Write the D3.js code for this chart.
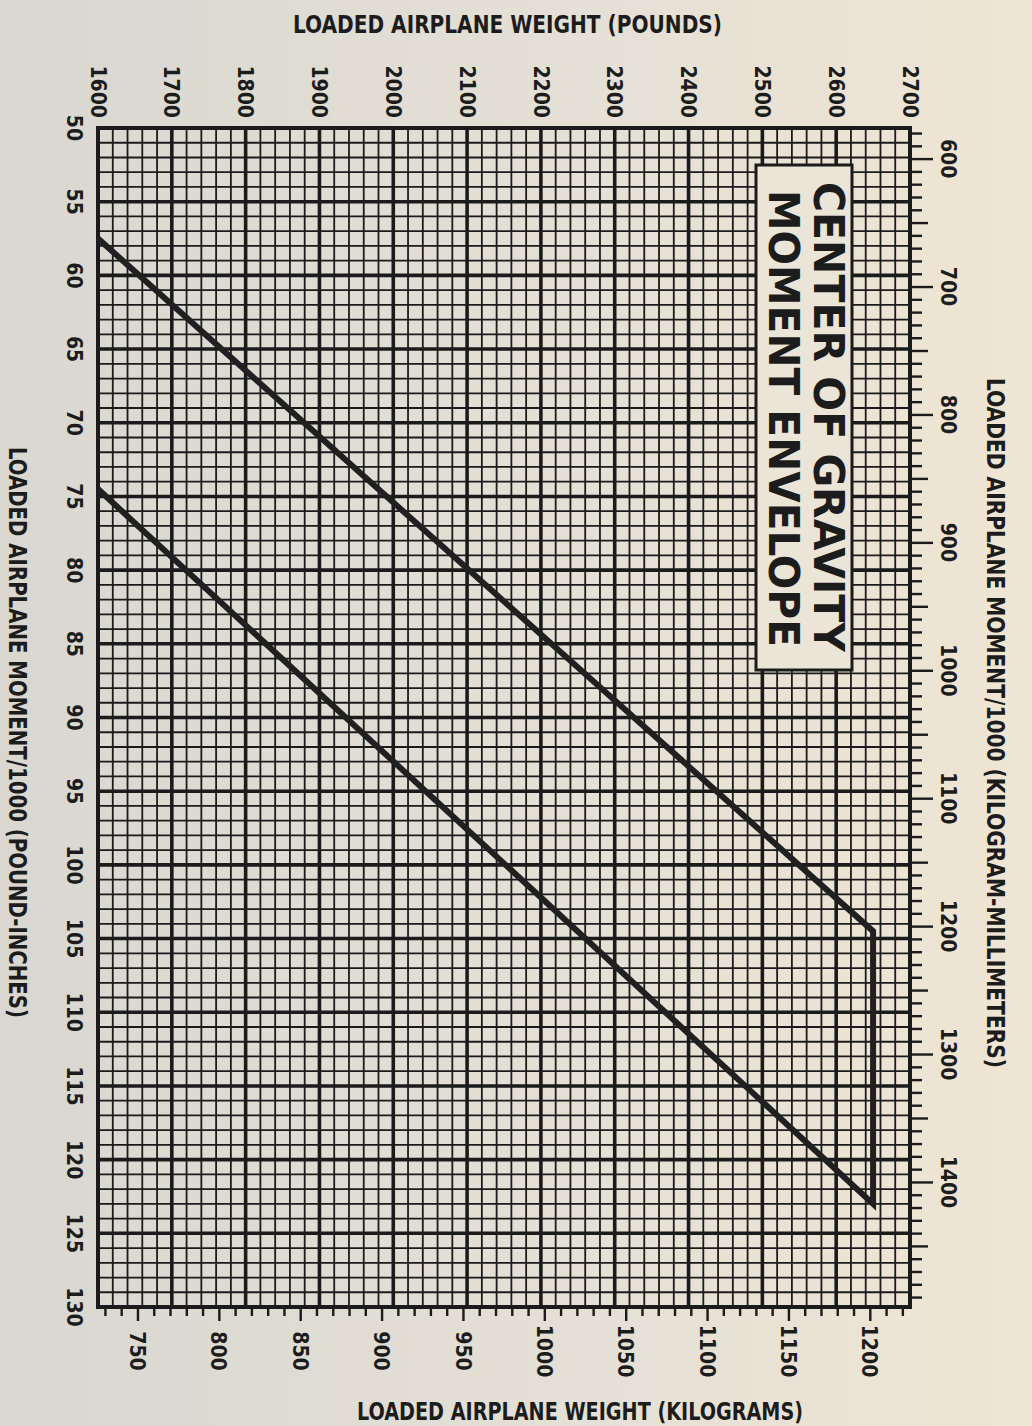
<!DOCTYPE html>
<html>
<head>
<meta charset="utf-8">
<script src="https://cdn.jsdelivr.net/npm/d3@7"></script>
<style>
  html, body { margin: 0; padding: 0; background: #e4e0d6; }
  svg { display: block; }
  text { font-family: "Liberation Sans Narrow", "Arial Narrow", "DejaVu Sans Condensed", sans-serif; font-weight: bold; fill: #1c1c1c; }
</style>
</head>
<body>
<div class="Canvas"></div>
<script>
// Tick labels on the four sides.
const weightLabelsLb = [1600, 1700, 1800, 1900, 2000, 2100, 2200, 2300, 2400, 2500, 2600, 2700];
const momentLabelsLbIn = [50, 55, 60, 65, 70, 75, 80, 85, 90, 95, 100, 105, 110, 115, 120, 125, 130];
const momentLabelsKgMm = [600, 700, 800, 900, 1000, 1100, 1200, 1300, 1400];
const weightLabelsKg = [750, 800, 850, 900, 950, 1000, 1050, 1100, 1150, 1200];

// Envelope corners (weight in lb, moment/1000 in lb-in).
const envelopeWeight = [1600, 2650, 2650, 1600];
const envelopeMoment = [57.5, 104.5, 123, 74.5];

const width = 1032;
const height = 1426;
// plot box edges
const padL = 98, padR = 910, padT = 128, padB = 1307;
const LB_TO_KG = 0.45359237;
const LBIN_TO_KGMM = 11.521246;

const ink = '#1b1b1b';

const svg = d3.select('.Canvas').append('svg')
    .attr('width', width)
    .attr('height', height);

// paper background, greyer on the left, warmer on the right
const grad = svg.append('defs').append('linearGradient')
    .attr('id', 'paper').attr('x1', 0).attr('x2', 1).attr('y1', 0).attr('y2', 0);
grad.append('stop').attr('offset', '0%').attr('stop-color', '#d9d7d0');
grad.append('stop').attr('offset', '55%').attr('stop-color', '#e4e0d6');
grad.append('stop').attr('offset', '100%').attr('stop-color', '#efe5d3');
svg.append('rect').attr('width', width).attr('height', height).attr('fill', 'url(#paper)');

const x = d3.scaleLinear().domain([1600, 2700]).range([padL, padR]);
const y = d3.scaleLinear().domain([50, 130]).range([padT, padB]);
const xKg = d3.scaleLinear().domain([1600 * LB_TO_KG, 2700 * LB_TO_KG]).range([padL, padR]);
const yKgMm = d3.scaleLinear().domain([50 * LBIN_TO_KGMM, 130 * LBIN_TO_KGMM]).range([padT, padB]);

const g = svg.append('g');

// Grid: vertical every 20 lb (heavy every 100), horizontal every 1 (heavy every 5)
const vLines = d3.range(1600, 2701, 20);
const hLines = d3.range(50, 131, 1);

g.selectAll('line.v')
    .data(vLines)
    .enter()
    .append('line')
    .attr('class', 'v')
    .attr('x1', (d) => x(d)).attr('x2', (d) => x(d))
    .attr('y1', padT).attr('y2', padB)
    .attr('stroke', ink)
    .attr('stroke-width', (d) => (d % 100 == 0 ? 3.6 : 1.8));

g.selectAll('line.h')
    .data(hLines)
    .enter()
    .append('line')
    .attr('class', 'h')
    .attr('x1', padL).attr('x2', padR)
    .attr('y1', (d) => y(d)).attr('y2', (d) => y(d))
    .attr('stroke', ink)
    .attr('stroke-width', (d) => (d % 5 == 0 ? 3.6 : 1.8));

// border
g.append('rect')
    .attr('x', padL).attr('y', padT)
    .attr('width', padR - padL).attr('height', padB - padT)
    .attr('fill', 'none')
    .attr('stroke', ink)
    .attr('stroke-width', 4);

// Right axis: kg-mm, ticks every 10, longer at 50 and 100
const kgmmTicks = d3.range(580, 1498, 10);
const rightAxis = g.append('g')
    .attr('transform', `translate(${padR},0)`)
    .call(d3.axisRight(yKgMm).tickValues(kgmmTicks).tickSize(12).tickFormat(''));
rightAxis.select('.domain').remove();
rightAxis.selectAll('.tick line')
    .attr('stroke', ink)
    .attr('stroke-width', 2.4)
    .attr('x2', (d) => (d % 100 == 0 ? 23 : d % 50 == 0 ? 18 : 12));

// Bottom axis: kg, ticks every 10, longer at 50
const kgTicks = d3.range(730, 1225, 10);
const bottomAxis = g.append('g')
    .attr('transform', `translate(0,${padB})`)
    .call(d3.axisBottom(xKg).tickValues(kgTicks).tickSize(9).tickFormat(''));
bottomAxis.select('.domain').remove();
bottomAxis.selectAll('.tick line')
    .attr('stroke', ink)
    .attr('stroke-width', 2.4)
    .attr('y2', (d) => (d % 50 == 0 ? 14 : 9));

// Rotated tick labels (whole page is turned a quarter clockwise)
const labelSize = '21px';
const rotText = (sel, tx, ty, anchor) => {
    sel.attr('transform', (d) => `translate(${tx(d)},${ty(d)}) rotate(90)`)
        .attr('text-anchor', anchor)
        .attr('dy', '0.35em')
        .attr('font-size', labelSize)
        .text((d) => d);
};

g.selectAll('text.lb')
    .data(weightLabelsLb)
    .enter()
    .append('text')
    .attr('class', 'lb')
    .call(rotText, (d) => x(d), () => padT - 10, 'end');

g.selectAll('text.lbin')
    .data(momentLabelsLbIn)
    .enter()
    .append('text')
    .attr('class', 'lbin')
    .call(rotText, () => padL - 24, (d) => y(d), 'middle');

g.selectAll('text.kgmm')
    .data(momentLabelsKgMm)
    .enter()
    .append('text')
    .attr('class', 'kgmm')
    .call(rotText, () => padR + 38, (d) => yKgMm(d), 'middle');

g.selectAll('text.kg')
    .data(weightLabelsKg)
    .enter()
    .append('text')
    .attr('class', 'kg')
    .call(rotText, (d) => xKg(d), () => padB + 44, 'middle');

// Envelope
const envelope = envelopeWeight.map((w, i) => [w, envelopeMoment[i]]);
g.append('path')
    .datum(envelope)
    .attr('d', d3.line().x((d) => x(d[0])).y((d) => y(d[1])))
    .attr('fill', 'none')
    .attr('stroke', '#202020')
    .attr('stroke-width', 6)
    .attr('stroke-linejoin', 'miter');

// Title box
const boxX = 756, boxY = 165, boxW = 96, boxH = 505;
g.append('rect')
    .attr('x', boxX).attr('y', boxY)
    .attr('width', boxW).attr('height', boxH)
    .attr('fill', '#ebe5d8')
    .attr('stroke', ink)
    .attr('stroke-width', 3);

const titleLines = [
    { text: 'CENTER OF GRAVITY', base: 814, start: 182, len: 470 },
    { text: 'MOMENT ENVELOPE', base: 769, start: 190, len: 457 },
];
g.selectAll('text.title')
    .data(titleLines)
    .enter()
    .append('text')
    .attr('class', 'title')
    .attr('transform', (d) => `translate(${d.base},${d.start}) rotate(90)`)
    .attr('font-family', '"Liberation Sans", Arial, sans-serif')
    .attr('font-size', '42px')
    .attr('textLength', (d) => d.len)
    .attr('lengthAdjust', 'spacingAndGlyphs')
    .text((d) => d.text);

// Axis titles
g.append('text')
    .attr('x', 293).attr('y', 33)
    .attr('font-size', '24px')
    .attr('textLength', 429)
    .attr('lengthAdjust', 'spacingAndGlyphs')
    .text('LOADED AIRPLANE WEIGHT (POUNDS)');

g.append('text')
    .attr('x', 357).attr('y', 1420)
    .attr('font-size', '24px')
    .attr('textLength', 446)
    .attr('lengthAdjust', 'spacingAndGlyphs')
    .text('LOADED AIRPLANE WEIGHT (KILOGRAMS)');

g.append('text')
    .attr('transform', 'translate(9,447) rotate(90)')
    .attr('font-size', '24px')
    .attr('textLength', 571)
    .attr('lengthAdjust', 'spacingAndGlyphs')
    .text('LOADED AIRPLANE MOMENT/1000 (POUND-INCHES)');

g.append('text')
    .attr('transform', 'translate(987,378) rotate(90)')
    .attr('font-size', '24px')
    .attr('textLength', 690)
    .attr('lengthAdjust', 'spacingAndGlyphs')
    .text('LOADED AIRPLANE MOMENT/1000 (KILOGRAM-MILLIMETERS)');
</script>
</body>
</html>
